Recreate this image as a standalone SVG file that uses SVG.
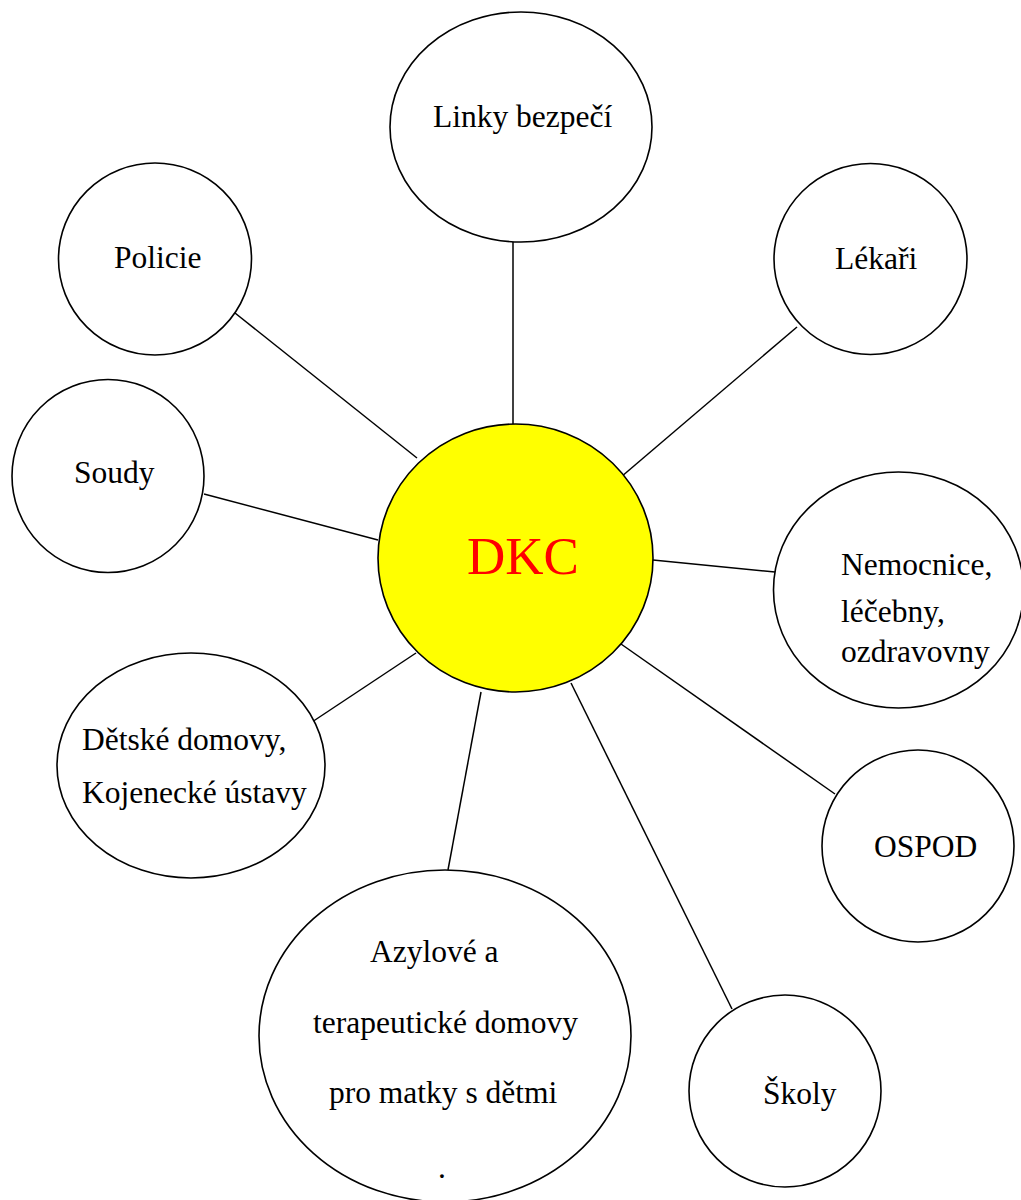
<svg xmlns="http://www.w3.org/2000/svg" width="1021" height="1200" viewBox="0 0 1021 1200">
  <style>
    .bubble { fill: #ffffff; stroke: #000000; stroke-width: 1.6; }
    .core { fill: #ffff00; stroke: #000000; stroke-width: 1.6; }
    .link { stroke: #000000; stroke-width: 1.5; fill: none; }
    .label { font-family: "Liberation Serif", "Times New Roman", serif; font-size: 31.5px; fill: #000000; }
    .core-label { font-family: "Liberation Serif", "Times New Roman", serif; font-size: 53px; fill: #ff0000; }
  </style>
  <rect width="1021" height="1200" fill="#ffffff"/>

  <!-- spokes from the centre to each partner -->
  <g id="connectors">
    <line class="link" x1="513" y1="242" x2="513" y2="424"/>
    <line class="link" x1="235" y1="313" x2="417" y2="458"/>
    <line class="link" x1="797" y1="327" x2="621" y2="477"/>
    <line class="link" x1="204" y1="494" x2="378" y2="540"/>
    <line class="link" x1="653" y1="560" x2="775" y2="572"/>
    <line class="link" x1="312" y1="722" x2="416" y2="653"/>
    <line class="link" x1="621" y1="644" x2="835" y2="794"/>
    <line class="link" x1="481" y1="692" x2="448" y2="870"/>
    <line class="link" x1="571" y1="683" x2="732" y2="1009"/>
  </g>

  <g id="linky">
    <ellipse class="bubble" cx="521" cy="127" rx="131" ry="115"/>
    <text class="label" x="433" y="127">Linky bezpečí</text>
  </g>

  <g id="policie">
    <ellipse class="bubble" cx="155" cy="259" rx="96.5" ry="96"/>
    <text class="label" x="114" y="268">Policie</text>
  </g>

  <g id="lekari">
    <ellipse class="bubble" cx="870.5" cy="259" rx="96.5" ry="95.5"/>
    <text class="label" x="835" y="269">Lékaři</text>
  </g>

  <g id="soudy">
    <ellipse class="bubble" cx="108" cy="476" rx="96" ry="96.5"/>
    <text class="label" x="74" y="483">Soudy</text>
  </g>

  <g id="dkc">
    <ellipse class="core" cx="515.5" cy="558" rx="137.5" ry="134"/>
    <text class="core-label" x="467" y="574">DKC</text>
  </g>

  <g id="nemocnice">
    <ellipse class="bubble" cx="898.5" cy="590" rx="125" ry="118"/>
    <text class="label" x="841" y="575">Nemocnice,</text>
    <text class="label" x="841" y="622">léčebny,</text>
    <text class="label" x="841" y="662">ozdravovny</text>
  </g>

  <g id="detske-domovy">
    <ellipse class="bubble" cx="191" cy="765.5" rx="134" ry="112.5"/>
    <text class="label" x="82" y="750">Dětské domovy,</text>
    <text class="label" x="82" y="803">Kojenecké ústavy</text>
  </g>

  <g id="ospod">
    <ellipse class="bubble" cx="918" cy="846" rx="96" ry="96"/>
    <text class="label" x="874" y="857">OSPOD</text>
  </g>

  <g id="azylove-domovy">
    <ellipse class="bubble" cx="445" cy="1036" rx="186" ry="166"/>
    <text class="label" x="370" y="962">Azylové a</text>
    <text class="label" x="313" y="1033">terapeutické domovy</text>
    <text class="label" x="329" y="1103">pro matky s dětmi</text>
    <text class="label" x="438" y="1178">.</text>
  </g>

  <g id="skoly">
    <ellipse class="bubble" cx="785" cy="1091" rx="96" ry="96"/>
    <text class="label" x="763" y="1104">Školy</text>
  </g>
</svg>
